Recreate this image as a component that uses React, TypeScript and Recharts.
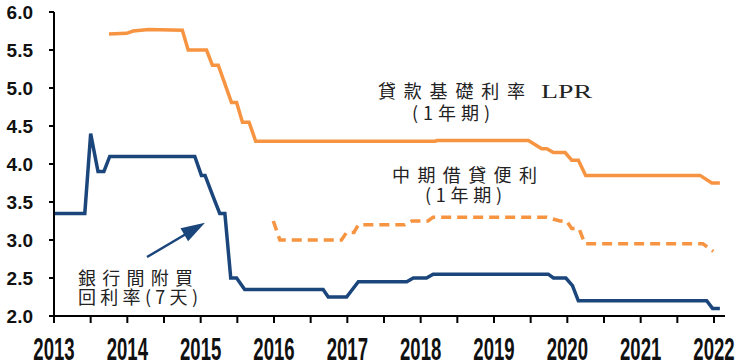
import React from "react";
import { LineChart, Line, XAxis, YAxis } from "recharts";

// 貸款基礎利率 LPR (1年期)
const lprDates = [2013.75, 2013.99, 2014.08, 2014.29, 2014.75, 2014.83, 2015.08, 2015.16, 2015.24, 2015.42, 2015.49, 2015.57, 2015.66, 2015.75, 2018.2, 2018.22, 2019.47, 2019.65, 2019.72, 2019.81, 2019.97, 2020.06, 2020.15, 2020.25, 2021.81, 2021.97, 2022.08];
const lprValues = [5.71, 5.72, 5.75, 5.77, 5.76, 5.5, 5.5, 5.3, 5.3, 4.81, 4.81, 4.55, 4.55, 4.3, 4.3, 4.31, 4.31, 4.2, 4.2, 4.15, 4.15, 4.05, 4.05, 3.85, 3.85, 3.75, 3.75];

// 中期借貸便利 (1年期)
const mlfDates = [2015.99, 2016.08, 2016.92, 2016.99, 2017.09, 2017.15, 2017.78, 2017.88, 2018.1, 2018.17, 2019.72, 2019.9, 2019.99, 2020.06, 2020.16, 2020.24, 2021.85, 2021.99];
const mlfValues = [3.25, 3.0, 3.0, 3.1, 3.1, 3.2, 3.2, 3.25, 3.25, 3.3, 3.3, 3.25, 3.25, 3.15, 3.15, 2.95, 2.95, 2.85];

// 銀行間附買回利率(7天)
const repoDates = [2013.0, 2013.42, 2013.5, 2013.6, 2013.68, 2013.76, 2014.92, 2015.01, 2015.06, 2015.17, 2015.26, 2015.33, 2015.41, 2015.49, 2015.6, 2016.67, 2016.74, 2016.99, 2017.15, 2017.81, 2017.9, 2018.08, 2018.17, 2019.74, 2019.81, 2019.98, 2020.07, 2020.15, 2021.9, 2021.98, 2022.08];
const repoValues = [3.35, 3.35, 4.4, 3.9, 3.9, 4.1, 4.1, 3.85, 3.85, 3.57, 3.35, 3.35, 2.5, 2.5, 2.35, 2.35, 2.25, 2.25, 2.45, 2.45, 2.5, 2.5, 2.55, 2.55, 2.5, 2.5, 2.4, 2.2, 2.2, 2.1, 2.1];

const xTicks = [2013, 2013.5, 2014, 2014.5, 2015, 2015.5, 2016, 2016.5, 2017, 2017.5, 2018, 2018.5, 2019, 2019.5, 2020, 2020.5, 2021, 2021.5, 2022];
const yTicks = [2, 2.5, 3, 3.5, 4, 4.5, 5, 5.5, 6];

const toRows = (dates: number[], values: number[]) => dates.map((t, i) => ({ t, v: values[i] }));

const ORANGE = "#F79442";
const NAVY = "#1B467C";
const AXIS = { stroke: "#000", strokeWidth: 2 };
const CJK = "'Noto Sans CJK TC', 'Noto Sans CJK SC', sans-serif";

function YearTick({ x, payload }: any) {
    if (!Number.isInteger(payload.value)) return <g />;
    return (
        <text transform={`translate(${x},360) scale(0.58,1)`} textAnchor="middle"
            fontSize={32} fontWeight="bold" fontFamily="'Liberation Sans', Arial, sans-serif" fill="#111">
            {payload.value}
        </text>
    );
}

function Notes() {
    const txt = { fontFamily: CJK, fontSize: 18, fill: "#222", lengthAdjust: "spacing" };
    return (
        <svg width={741} height={364} style={{ position: "absolute", left: 0, top: 0, pointerEvents: "none" }}>
            <text x={378} y={98} {...txt} textLength={147}>貸款基礎利率</text>
            <text x={541} y={98} fontFamily="'Liberation Serif', serif" fontSize={18} fill="#222"
                textLength={51} lengthAdjust="spacingAndGlyphs">LPR</text>
            <text x={412} y={120} {...txt} textLength={78}>(1年期)</text>
            <text x={392} y={182} {...txt} textLength={145}>中期借貸便利</text>
            <text x={425} y={202} {...txt} textLength={77}>(1年期)</text>
            <text x={78} y={285} {...txt} textLength={115}>銀行間附買</text>
            <text x={78} y={304} {...txt} textLength={120}>回利率(7天)</text>
            <line x1={147} y1={257} x2={186} y2={234} stroke={NAVY} strokeWidth={2.5} />
            <polygon points="205,222.7 188.1,241.3 180.5,228.3" fill={NAVY} />
        </svg>
    );
}

export default function App() {
    return (
        <div style={{ position: "absolute", left: 0, top: 0, width: 741, height: 364, background: "#fff" }}>
            <LineChart width={741} height={364} margin={{ top: 12, right: 16, left: 0, bottom: 0 }}>
                <XAxis
                    type="number"
                    dataKey="t"
                    domain={[2013, 2022.15]}
                    ticks={xTicks}
                    interval={0}
                    height={48}
                    axisLine={AXIS}
                    tickLine={AXIS}
                    tickSize={7}
                    tick={<YearTick />}
                />
                <YAxis
                    type="number"
                    domain={[2, 6]}
                    ticks={yTicks}
                    width={54}
                    axisLine={AXIS}
                    tickLine={AXIS}
                    tickSize={5}
                    tickMargin={16}
                    tickFormatter={(v: number) => v.toFixed(1)}
                    tick={{ fontSize: 19, fontWeight: "bold", fill: "#111", fontFamily: "'Liberation Sans', Arial, sans-serif" }}
                />
                <Line data={toRows(lprDates, lprValues)} dataKey="v" type="linear" stroke={ORANGE} strokeWidth={3.5} dot={false} isAnimationActive={false} />
                <Line data={toRows(mlfDates, mlfValues)} dataKey="v" type="linear" stroke={ORANGE} strokeWidth={3.5} strokeDasharray="10 6" dot={false} isAnimationActive={false} />
                <Line data={toRows(repoDates, repoValues)} dataKey="v" type="linear" stroke={NAVY} strokeWidth={3.5} dot={false} isAnimationActive={false} />
            </LineChart>
            <Notes />
        </div>
    );
}
